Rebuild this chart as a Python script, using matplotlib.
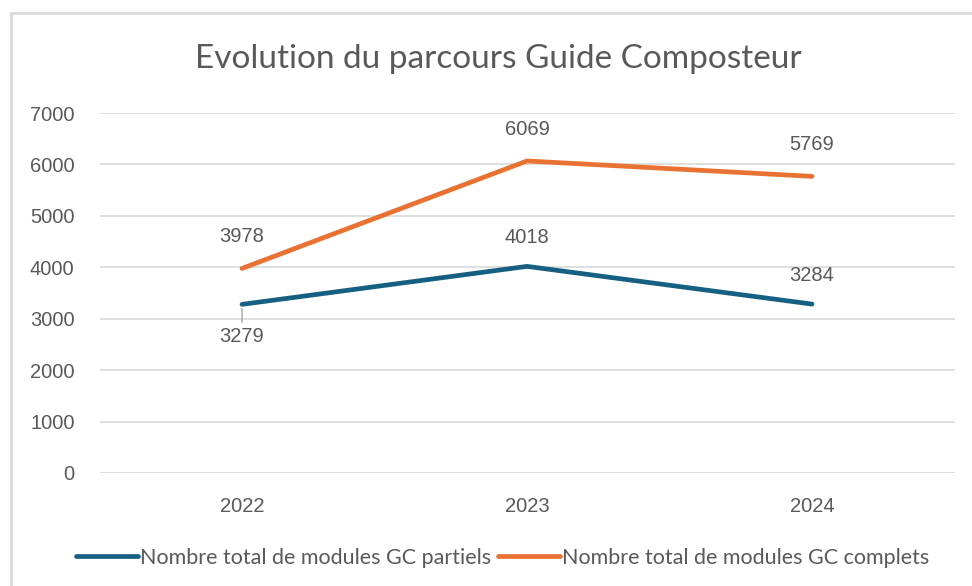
import numpy as np
import matplotlib.pyplot as plt
from matplotlib.lines import Line2D

plt.rcParams['font.family'] = ['Lato', 'DejaVu Sans']

years = ['2022', '2023', '2024']
partiels = [3279, 4018, 3284]
complets = [3978, 6069, 5769]
yticks = [0, 1000, 2000, 3000, 4000, 5000, 6000, 7000]

blue = '#156082'
orange = '#E97132'
grey = '#595959'
numfont = ['Liberation Sans', 'DejaVu Sans']

fig = plt.figure(figsize=(9.72, 5.86), dpi=100)
ax = fig.add_axes([0.1024, 0.193, 0.8796, 0.614])

x = np.arange(len(years))
ax.plot(x, partiels, color=blue, lw=3.4, solid_capstyle='round', zorder=3)
ax.plot(x, complets, color=orange, lw=3.4, solid_capstyle='round', zorder=3)

# data labels
for i, v in enumerate(complets):
    ax.annotate(str(v), (x[i], v), xytext=(0, 16), textcoords='offset points',
                ha='center', va='bottom', fontsize=14.5, color=grey, family=numfont)
for i, v in enumerate(partiels):
    if i == 0:
        ax.annotate(str(v), (x[i], v), xytext=(0, -16), textcoords='offset points',
                    ha='center', va='top', fontsize=14.5, color=grey, family=numfont,
                    arrowprops=dict(arrowstyle='-', color='#a6a6a6', lw=1,
                                    shrinkA=1, shrinkB=3))
    else:
        ax.annotate(str(v), (x[i], v), xytext=(0, 14), textcoords='offset points',
                    ha='center', va='bottom', fontsize=14.5, color=grey, family=numfont)

ax.set_xlim(-0.5, 2.5)
ax.set_ylim(0, 7000)
ax.set_xticks(x)
ax.set_xticklabels(years)
ax.set_yticks(yticks)
for lab in ax.get_xticklabels() + ax.get_yticklabels():
    lab.set_family(numfont)
ax.grid(axis='y', color='#d9d9d9', lw=1.2)
ax.set_axisbelow(True)
for s in ax.spines.values():
    s.set_visible(False)
ax.tick_params(length=0, labelsize=14.5, colors=grey)
ax.tick_params(axis='y', pad=18)
ax.tick_params(axis='x', pad=17)

fig.suptitle('Evolution du parcours Guide Composteur', x=0.513, y=0.925,
             fontsize=24, color=grey)

handles = [Line2D([], [], color=blue, lw=3.4, solid_capstyle='round'),
           Line2D([], [], color=orange, lw=3.4, solid_capstyle='round')]
fig.legend(handles, ['Nombre total de modules GC partiels',
                     'Nombre total de modules GC complets'],
           loc='center', bbox_to_anchor=(0.517, 0.048), ncol=2, frameon=False,
           fontsize=15.5, labelcolor=grey, handlelength=2.9, handletextpad=0.1,
           columnspacing=0.3)

# chart frame
fig.add_artist(Line2D([0.0113, 0.0113], [0.0, 0.978], color='#d9d9d9', lw=2))
fig.add_artist(Line2D([0.0113, 1.0], [0.978, 0.978], color='#d9d9d9', lw=2))

fig.savefig('out.png')
